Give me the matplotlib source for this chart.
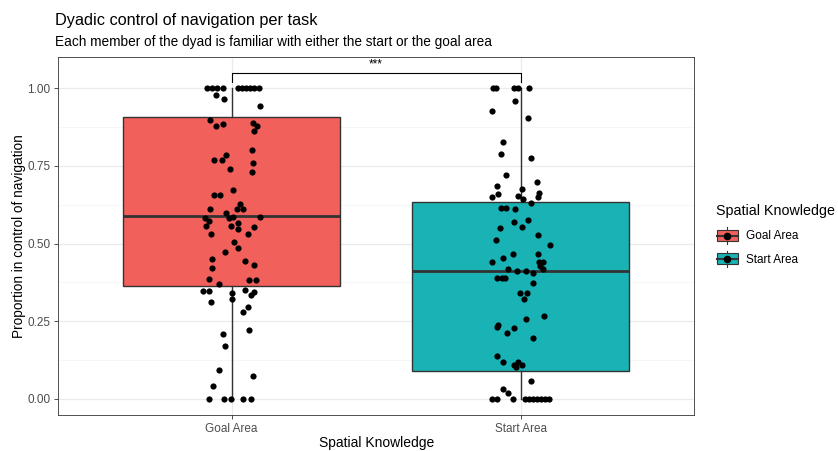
import matplotlib
matplotlib.use("Agg")
import matplotlib.pyplot as plt
import numpy as np
from matplotlib.legend_handler import HandlerBase
from matplotlib.patches import Rectangle
from matplotlib.lines import Line2D
from matplotlib.ticker import MultipleLocator

plt.rcParams['font.family'] = ['Liberation Sans', 'DejaVu Sans']

# ---------------- data ----------------
categories = ["Goal Area", "Start Area"]
box_colors = ["#F2605C", "#19B3B6"]

# box statistics
q1 = [0.363, 0.090]
median = [0.588, 0.412]
q3 = [0.907, 0.633]
whisker_low = [0.0, 0.0]
whisker_high = [1.0, 1.0]

# jittered observations: horizontal jitter offset (category units) and value
goal_jitter = [-0.085, -0.068, -0.050, -0.030, 0.022, 0.036, 0.051, 0.065, 0.078, 0.096,
               -0.053, -0.026, 0.097, -0.076, -0.054, -0.030, 0.074, 0.088, 0.078, 0.070,
               -0.018, -0.060, -0.033, 0.074, -0.004, 0.070, 0.005, -0.060, -0.039, 0.030,
               -0.076, 0.019, 0.039, -0.019, 0.005, 0.097, -0.093, -0.010, -0.079, 0.024,
               -0.088, -0.002, 0.078, 0.022, -0.070, 0.057, 0.009, 0.024, -0.022, -0.066,
               0.047, 0.079, -0.068, -0.077, 0.061, 0.083, -0.045, 0.047, -0.097, -0.077,
               0.079, 0.000, 0.069, 0.001, -0.071, 0.057, 0.038, 0.059, -0.031, -0.024,
               -0.043, 0.074, -0.064, -0.078, -0.025, -0.001, 0.041, 0.066]
goal_values = [1.0, 1.0, 1.0, 1.0, 1.0, 1.0, 1.0, 1.0, 1.0, 1.0,
               0.980, 0.967, 0.942, 0.899, 0.879, 0.886, 0.889, 0.879, 0.862, 0.801,
               0.785, 0.768, 0.768, 0.760, 0.739, 0.729, 0.674, 0.656, 0.656, 0.627,
               0.611, 0.611, 0.611, 0.597, 0.586, 0.586, 0.581, 0.581, 0.574, 0.567,
               0.557, 0.557, 0.554, 0.546, 0.531, 0.531, 0.506, 0.484, 0.472, 0.449,
               0.445, 0.432, 0.421, 0.387, 0.383, 0.383, 0.369, 0.350, 0.348, 0.348,
               0.345, 0.340, 0.333, 0.320, 0.312, 0.297, 0.279, 0.221, 0.209, 0.170,
               0.093, 0.074, 0.040, 0.0, 0.0, 0.0, 0.0, 0.0]

start_jitter = [-0.095, -0.086, -0.023, -0.008, 0.029, -0.020, -0.099, 0.026, -0.061, -0.067,
                0.037, -0.050, 0.056, -0.082, 0.006, 0.064, -0.077, -0.098, 0.061, -0.010,
                0.009, 0.036, -0.068, -0.051, -0.019, 0.025, -0.022, 0.003, -0.073, 0.061,
                -0.084, 0.100, -0.026, 0.061, -0.060, 0.076, -0.099, 0.063, 0.067, -0.043,
                0.078, -0.014, 0.018, 0.044, -0.083, -0.066, -0.053, 0.042, -0.001, 0.021,
                0.010, 0.080, 0.018, -0.078, -0.081, -0.023, -0.046, 0.044, -0.081, -0.060,
                -0.008, 0.003, -0.022, -0.017, 0.036, -0.062, -0.045,
                -0.098, -0.081, -0.028, 0.015, 0.029, 0.043, 0.056, 0.070, 0.084, 0.098]
start_values = [1.0, 1.0, 1.0, 1.0, 1.0, 0.959, 0.926, 0.905, 0.828, 0.788,
                0.777, 0.720, 0.699, 0.686, 0.677, 0.663, 0.658, 0.650, 0.650, 0.653,
                0.645, 0.631, 0.615, 0.615, 0.611, 0.576, 0.568, 0.553, 0.549, 0.526,
                0.512, 0.495, 0.467, 0.466, 0.453, 0.442, 0.440, 0.440, 0.428, 0.417,
                0.417, 0.412, 0.412, 0.404, 0.388, 0.388, 0.388, 0.372, 0.342, 0.342,
                0.322, 0.268, 0.258, 0.236, 0.232, 0.228, 0.213, 0.196, 0.136, 0.118,
                0.119, 0.110, 0.110, 0.102, 0.056, 0.031, 0.018,
                0.0, 0.0, 0.0, 0.0, 0.0, 0.0, 0.0, 0.0, 0.0, 0.0]

y_ticks = [0.0, 0.25, 0.50, 0.75, 1.00]
y_tick_labels = ["0.00", "0.25", "0.50", "0.75", "1.00"]
signif_label = "***"
signif_y = 1.05
signif_tip = 0.03

title = "Dyadic control of navigation per task"
subtitle = "Each member of the dyad is familiar with either the start or the goal area"
x_label = "Spatial Knowledge"
y_label = "Proportion in control of navigation"
legend_title = "Spatial Knowledge"

# ---------------- figure ----------------
W, H = 838, 451
fig = plt.figure(figsize=(W / 100, H / 100), dpi=100)
ax = fig.add_axes([58.0 / W, 1 - 415.0 / H, (694.3 - 58.0) / W, (415.0 - 56.5) / H])

positions = [1, 2]
grey_line = "#333333"

stats = []
for i in range(2):
    stats.append(dict(med=median[i], q1=q1[i], q3=q3[i],
                      whislo=whisker_low[i], whishi=whisker_high[i], fliers=[]))
bp = ax.bxp(stats, positions=positions, widths=0.75, patch_artist=True,
            showfliers=False, showcaps=False,
            boxprops=dict(edgecolor=grey_line, linewidth=1.0),
            whiskerprops=dict(color=grey_line, linewidth=1.0),
            medianprops=dict(color=grey_line, linewidth=2.0),
            zorder=2)
for patch, c in zip(bp['boxes'], box_colors):
    patch.set_facecolor(c)

for pos, jit, vals in [(1, goal_jitter, goal_values), (2, start_jitter, start_values)]:
    xs = pos + np.array(jit)
    ax.scatter(xs, vals, s=20, color="black", zorder=3, linewidths=0)

# significance bracket
ax.plot([1, 1, 2, 2], [signif_y - signif_tip, signif_y, signif_y, signif_y - signif_tip],
        color="black", lw=0.8, zorder=3)
ax.text(1.5, signif_y + 0.006, signif_label, ha="center", va="bottom", fontsize=8.5)

ax.set_xlim(0.4, 2.6)
ax.set_ylim(-0.0525, 1.1025)
ax.set_xticks(positions)
ax.set_xticklabels(categories)
ax.set_yticks(y_ticks)
ax.set_yticklabels(y_tick_labels)
ax.yaxis.set_minor_locator(MultipleLocator(0.125))

ax.grid(True, which="major", color="#EBEBEB", lw=0.9, zorder=0)
ax.grid(True, which="minor", axis="y", color="#F3F3F3", lw=0.5, zorder=0)
ax.set_axisbelow(True)
ax.tick_params(axis="both", which="major", colors="#333333", labelcolor="#4D4D4D",
               labelsize=8.5, length=3, width=0.6, pad=2.5)
ax.tick_params(axis="y", which="minor", length=0)
for sp in ax.spines.values():
    sp.set_color("#333333")
    sp.set_linewidth(0.6)

ax.set_xlabel(x_label, fontsize=10, labelpad=1)
ax.set_ylabel(y_label, fontsize=9.8, labelpad=1)

fig.text(55.0 / W, 1 - 20.0 / H, title, fontsize=11.7, va="center", ha="left")
fig.text(55.0 / W, 1 - 42.0 / H, subtitle, fontsize=9.85, va="center", ha="left")


class BoxHandler(HandlerBase):
    def create_artists(self, legend, orig_handle, xdescent, ydescent, width, height, fontsize, trans):
        cx = width / 2 - xdescent
        cy = height / 2 - ydescent
        bw = width * 0.9
        bh = height * 0.68
        artists = [
            Line2D([cx, cx], [-ydescent, -ydescent + height], color=grey_line, lw=0.8, transform=trans),
            Rectangle((cx - bw / 2, cy - bh / 2), bw, bh, facecolor=orig_handle.get_facecolor(),
                      edgecolor=grey_line, lw=0.8, transform=trans),
            Line2D([cx - bw / 2, cx + bw / 2], [cy, cy], color=grey_line, lw=1.5, transform=trans),
            Line2D([cx], [cy], marker="o", color="black", markersize=4.5, lw=0, transform=trans),
        ]
        return artists


handles = [Rectangle((0, 0), 1, 1, facecolor=c) for c in box_colors]
leg = fig.legend(handles, categories, handler_map={Rectangle: BoxHandler()},
                 loc="upper left", bbox_to_anchor=(708 / W, 1 - 198 / H),
                 frameon=False, title=legend_title, title_fontsize=10.3, fontsize=8.5,
                 handlelength=1.9, handleheight=1.75, handletextpad=0.6,
                 labelspacing=0.6, alignment="left", borderpad=0.2)
leg.get_title().set_position((0, 2))

fig.savefig("out.png", dpi=100)
